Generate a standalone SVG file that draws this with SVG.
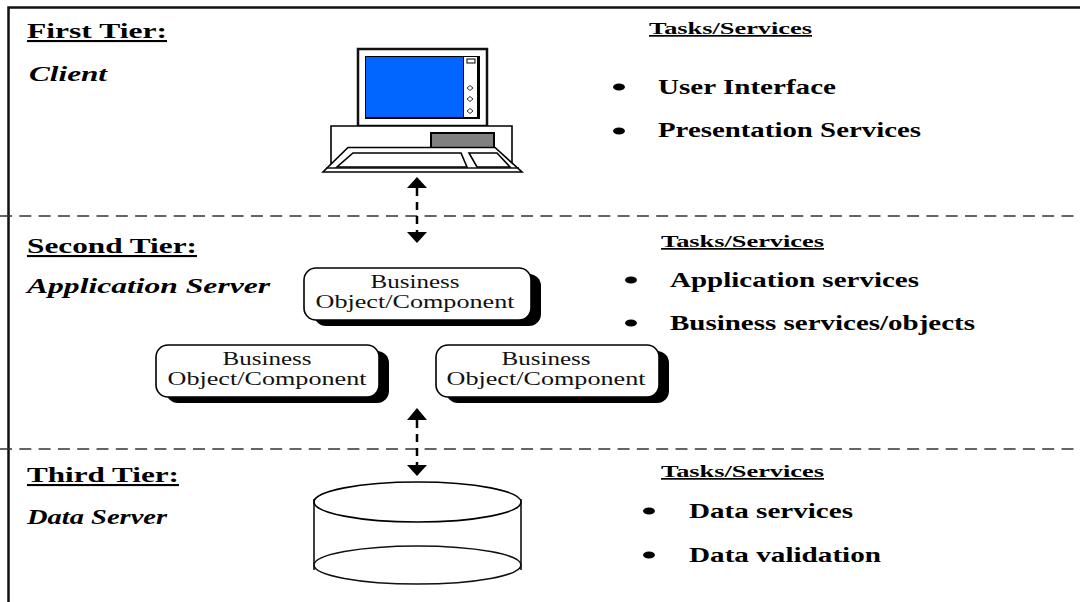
<svg xmlns="http://www.w3.org/2000/svg" width="1080" height="602" viewBox="0 0 1080 602">
<style>
text{font-family:"Liberation Serif","Times New Roman",serif;fill:#000}
.h{font-size:21px;font-weight:bold;text-decoration:underline}
.s{font-size:20px;font-weight:bold;font-style:italic}
.t{font-size:17px;font-weight:bold;text-decoration:underline}
.i{font-size:21px;font-weight:bold}
.b{font-size:19px;text-anchor:middle;fill:#111}
.l{fill:none;stroke:#111;stroke-width:1.600}
.d{fill:none;stroke:#333;stroke-width:1.600;stroke-dasharray:12 7.300}
.v{fill:none;stroke:#000;stroke-width:2.500;stroke-dasharray:8 6}
.w{fill:#fff;stroke:#000;stroke-width:1.600}
</style>
<rect width="1080" height="602" fill="#fff"/>
<g id="frame"><path d="M1080 7.500H8.500V602" fill="none" stroke="#111" stroke-width="2.500"/></g>
<g id="connectors">
<line x1="0" y1="216" x2="1080" y2="216" class="d"/>
<line x1="0" y1="449" x2="1080" y2="449" class="d"/>
<line x1="417" y1="188" x2="417" y2="232" class="v"/>
<path d="M417 177L427 188H407Z M417 243L427 232H407Z"/>
<line x1="417" y1="420" x2="417" y2="465" class="v"/>
<path d="M417 408L427 420H407Z M417 476L427 465H407Z"/>
</g>
<g id="first-tier-label"><text x="27" y="38" class="h" textLength="140" lengthAdjust="spacingAndGlyphs">First Tier:</text><text x="29" y="81" class="s" textLength="78" lengthAdjust="spacingAndGlyphs">Client</text></g>
<g id="computer">
<rect x="358" y="49" width="129" height="77" fill="#fff" stroke="#111" stroke-width="2.500"/>
<rect x="365" y="56" width="115" height="63" fill="#000"/>
<rect x="366" y="57" width="97" height="60" fill="#0066ff"/>
<rect x="464" y="57" width="13" height="60" fill="#fff"/>
<rect x="467" y="59" width="8" height="4" fill="#fff" stroke="#000" stroke-width="1"/>
<path d="M470 85.500l3 2.500-3 2.500-3-2.500z M470 96.500l3 2.500-3 2.500-3-2.500z M470 108.500l3 2.500-3 2.500-3-2.500z" fill="#fff" stroke="#333" stroke-width="1"/>
<path d="M331 164V126H512V164" class="w"/>
<rect x="431" y="133" width="63" height="15" fill="#808080" stroke="#000" stroke-width="2"/>
<path d="M348 147.500H495L522 172H323Z" class="w"/>
<path d="M326 168H519" class="l"/>
<path d="M353 153H461L467 167H337Z M469 153H497L510 167H477Z" class="w"/>
</g>
<g id="first-tier-tasks"><text x="649" y="34" class="t" textLength="163" lengthAdjust="spacingAndGlyphs">Tasks/Services</text><ellipse cx="619" cy="87" rx="6" ry="3.500"/><text x="658" y="94" class="i" textLength="178" lengthAdjust="spacingAndGlyphs">User Interface</text><ellipse cx="619" cy="131" rx="6" ry="3.500"/><text x="658" y="137" class="i" textLength="263" lengthAdjust="spacingAndGlyphs">Presentation Services</text></g>
<g id="second-tier-label"><text x="27" y="253" class="h" textLength="170" lengthAdjust="spacingAndGlyphs">Second Tier:</text><text x="27" y="293" class="s" textLength="243" lengthAdjust="spacingAndGlyphs">Application Server</text></g>
<g id="component-top"><rect x="314" y="274" width="227" height="52" rx="12" fill="#000"/><rect x="304" y="268" width="227" height="52" rx="12" class="w"/><text x="415" y="288" class="b" textLength="89" lengthAdjust="spacingAndGlyphs">Business</text><text x="415" y="308" class="b" textLength="199" lengthAdjust="spacingAndGlyphs">Object/Component</text></g>
<g id="component-left"><rect x="166" y="351" width="223" height="52" rx="12" fill="#000"/><rect x="156" y="345" width="223" height="52" rx="12" class="w"/><text x="267" y="365" class="b" textLength="89" lengthAdjust="spacingAndGlyphs">Business</text><text x="267" y="385" class="b" textLength="199" lengthAdjust="spacingAndGlyphs">Object/Component</text></g>
<g id="component-right"><rect x="446" y="351" width="223" height="52" rx="12" fill="#000"/><rect x="436" y="345" width="223" height="52" rx="12" class="w"/><text x="546" y="365" class="b" textLength="89" lengthAdjust="spacingAndGlyphs">Business</text><text x="546" y="385" class="b" textLength="199" lengthAdjust="spacingAndGlyphs">Object/Component</text></g>
<g id="second-tier-tasks"><text x="661" y="247" class="t" textLength="163" lengthAdjust="spacingAndGlyphs">Tasks/Services</text><ellipse cx="631" cy="280" rx="6" ry="3.500"/><text x="670" y="287" class="i" textLength="249" lengthAdjust="spacingAndGlyphs">Application services</text><ellipse cx="631" cy="323" rx="6" ry="3.500"/><text x="670" y="330" class="i" textLength="305" lengthAdjust="spacingAndGlyphs">Business services/objects</text></g>
<g id="third-tier-label"><text x="27" y="482" class="h" textLength="152" lengthAdjust="spacingAndGlyphs">Third Tier:</text><text x="27" y="524" class="s" textLength="140" lengthAdjust="spacingAndGlyphs">Data Server</text></g>
<g id="database">
<path d="M314 499V570 M521 499V570" class="l"/>
<ellipse cx="417.500" cy="565" rx="103.500" ry="19" class="l"/>
<ellipse cx="417.500" cy="502" rx="103.500" ry="20" class="w"/>
</g>
<g id="third-tier-tasks"><text x="661" y="477" class="t" textLength="163" lengthAdjust="spacingAndGlyphs">Tasks/Services</text><ellipse cx="649" cy="511" rx="6" ry="3.500"/><text x="689" y="518" class="i" textLength="164" lengthAdjust="spacingAndGlyphs">Data services</text><ellipse cx="649" cy="555" rx="6" ry="3.500"/><text x="689" y="562" class="i" textLength="192" lengthAdjust="spacingAndGlyphs">Data validation</text></g>
</svg>
